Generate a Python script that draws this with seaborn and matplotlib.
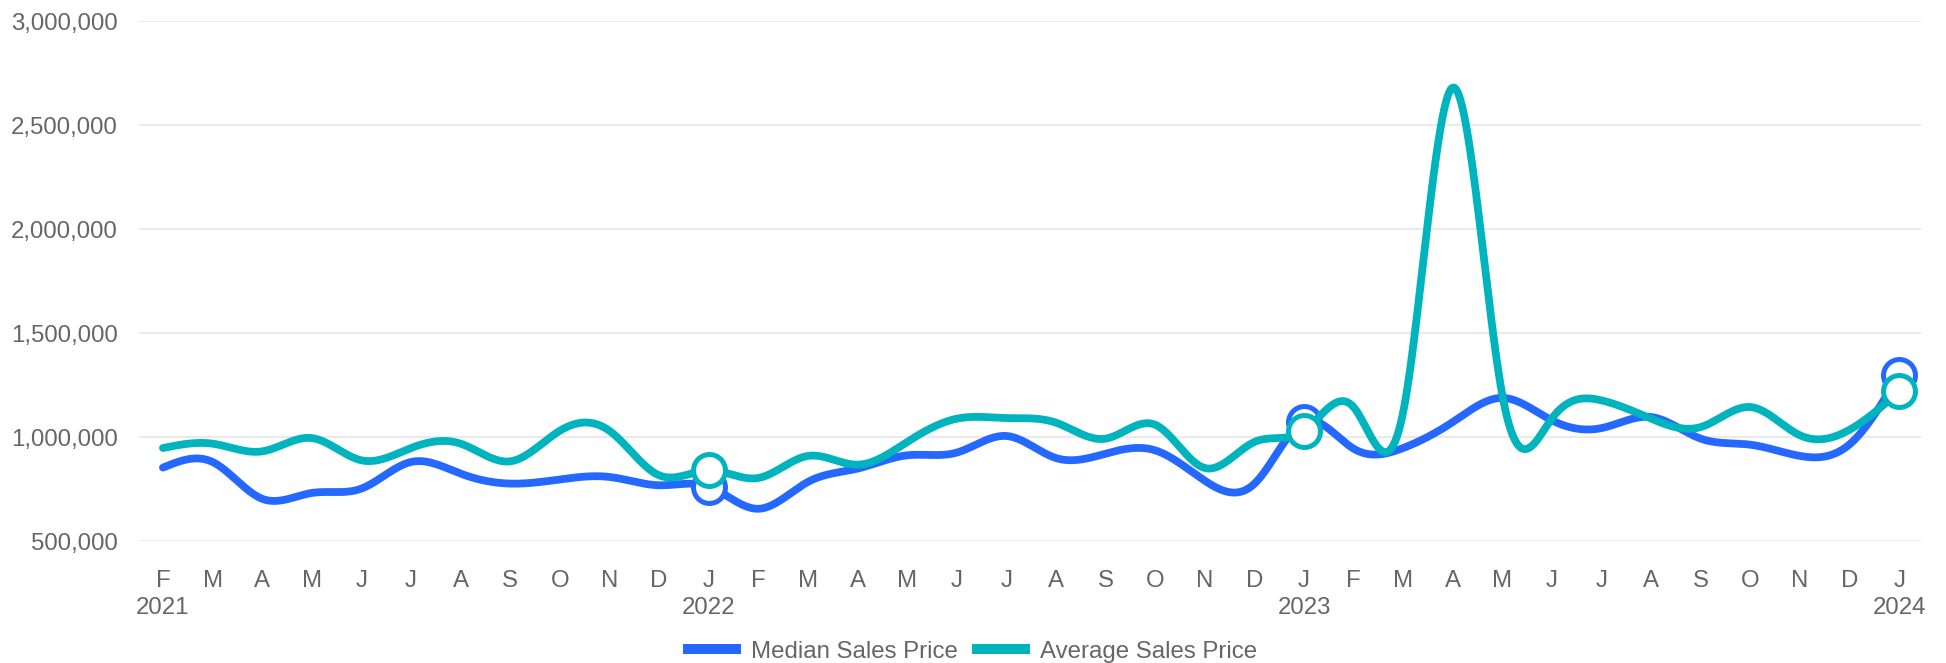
import numpy as np
import pandas as pd
import seaborn as sns
import matplotlib
matplotlib.use("Agg")
import matplotlib.pyplot as plt
from matplotlib.lines import Line2D

# ---------------- data ----------------
months = ["Feb 2021", "Mar 2021", "Apr 2021", "May 2021", "Jun 2021", "Jul 2021",
          "Aug 2021", "Sep 2021", "Oct 2021", "Nov 2021", "Dec 2021", "Jan 2022",
          "Feb 2022", "Mar 2022", "Apr 2022", "May 2022", "Jun 2022", "Jul 2022",
          "Aug 2022", "Sep 2022", "Oct 2022", "Nov 2022", "Dec 2022", "Jan 2023",
          "Feb 2023", "Mar 2023", "Apr 2023", "May 2023", "Jun 2023", "Jul 2023",
          "Aug 2023", "Sep 2023", "Oct 2023", "Nov 2023", "Dec 2023", "Jan 2024"]
tick_labels = ["F\n2021", "M", "A", "M", "J", "J", "A", "S", "O", "N", "D", "J\n2022",
               "F", "M", "A", "M", "J", "J", "A", "S", "O", "N", "D", "J\n2023",
               "F", "M", "A", "M", "J", "J", "A", "S", "O", "N", "D", "J\n2024"]
median_sales_price = [853000, 880000, 703000, 731000, 752000, 880000, 824000, 776000,
                      796000, 808000, 768000, 762000, 655000, 784000, 848000, 912000,
                      925000, 1005000, 899000, 920000, 936000, 790000, 775000, 1072000,
                      944000, 947000, 1072000, 1188000, 1080000, 1043000, 1096000,
                      992000, 963000, 909000, 965000, 1300000]
average_sales_price = [947000, 968000, 931000, 995000, 888000, 947000, 968000, 883000,
                       1030000, 1030000, 816000, 840000, 803000, 909000, 867000, 976000,
                       1088000, 1091000, 1069000, 992000, 1059000, 851000, 976000, 1029000,
                       1144000, 1120000, 2680000, 1200000, 1090000, 1176000, 1088000,
                       1048000, 1144000, 1008000, 1035000, 1220000]
series_names = ["Median Sales Price", "Average Sales Price"]
y_ticks = [500000, 1000000, 1500000, 2000000, 2500000, 3000000]
marker_months = ["Jan 2022", "Jan 2023", "Jan 2024"]

colors = {"Median Sales Price": "#2468FF", "Average Sales Price": "#00B4BE"}
TEXT = "#666666"
GRID = "#e6e6e6"
FS = 17.3


def natural_spline(x, y, xs):
    x = np.asarray(x, float)
    y = np.asarray(y, float)
    n = len(x)
    h = np.diff(x)
    A = np.zeros((n, n))
    b = np.zeros(n)
    A[0, 0] = 1.0
    A[-1, -1] = 1.0
    for i in range(1, n - 1):
        A[i, i - 1] = h[i - 1]
        A[i, i] = 2 * (h[i - 1] + h[i])
        A[i, i + 1] = h[i]
        b[i] = 3 * ((y[i + 1] - y[i]) / h[i] - (y[i] - y[i - 1]) / h[i - 1])
    c = np.linalg.solve(A, b)
    bb = (y[1:] - y[:-1]) / h - h * (2 * c[:-1] + c[1:]) / 3
    d = (c[1:] - c[:-1]) / (3 * h)
    idx = np.clip(np.searchsorted(x, xs, side="right") - 1, 0, n - 2)
    t = xs - x[idx]
    return y[idx] + bb[idx] * t + c[idx] * t ** 2 + d[idx] * t ** 3


xpos = np.arange(len(months))
xs = np.linspace(0, len(months) - 1, 2000)

curves = []
points = []
for name, vals in zip(series_names, [median_sales_price, average_sales_price]):
    curves.append(pd.DataFrame({"x": xs, "value": natural_spline(xpos, vals, xs), "series": name}))
    sel = [months.index(m) for m in marker_months]
    points.append(pd.DataFrame({"x": xpos[sel], "value": np.asarray(vals)[sel], "series": name}))
curve_df = pd.concat(curves, ignore_index=True)
point_df = pd.concat(points, ignore_index=True)

# ---------------- figure ----------------
sns.set_theme(style="white")
plt.rcParams["font.family"] = ["Liberation Sans", "DejaVu Sans"]

fig = plt.figure(figsize=(19.46, 6.63), dpi=100)
ax = fig.add_axes([0.0714, 0.184, 0.9872 - 0.0714, 0.9683 - 0.184])

for z, name in enumerate(series_names):
    sub = curve_df[curve_df["series"] == name]
    sns.lineplot(data=sub, x="x", y="value", color=colors[name], lw=5.6,
                 sort=False, estimator=None, ax=ax, zorder=2 + 2 * z,
                 solid_capstyle="round", legend=False)
    psub = point_df[point_df["series"] == name]
    sns.scatterplot(data=psub, x="x", y="value", s=23 ** 2, facecolor="white",
                    edgecolor=colors[name], linewidth=3.6, ax=ax, zorder=3 + 2 * z,
                    legend=False, clip_on=False)

ax.set_xlim(-0.484, len(months) - 1 + 0.44)
ax.set_ylim(500000, 3000000)
ax.set_yticks(y_ticks)
ax.set_yticklabels([f"{v:,}" for v in y_ticks])
ax.set_xticks(xpos)
ax.set_xticklabels(tick_labels, linespacing=1.26)
ax.tick_params(axis="both", length=0, labelsize=FS, colors=TEXT)
ax.tick_params(axis="y", pad=15)
ax.tick_params(axis="x", pad=21)
ax.set_xlabel("")
ax.set_ylabel("")
ax.grid(False)
for yv in y_ticks:
    ax.axhline(yv, color=GRID, lw=1.2, zorder=0)
for s in ax.spines.values():
    s.set_visible(False)

handles = [Line2D([0], [0], color=colors[n], lw=7.2, solid_capstyle="butt") for n in series_names]
leg = fig.legend(handles, series_names, loc="center", bbox_to_anchor=(0.4985, 0.017),
                 ncol=2, frameon=False, fontsize=FS, handlelength=2.4,
                 handletextpad=0.42, columnspacing=0.62, borderpad=0, borderaxespad=0)
for t in leg.get_texts():
    t.set_color(TEXT)

fig.savefig("out.png", dpi=100, facecolor="white")
